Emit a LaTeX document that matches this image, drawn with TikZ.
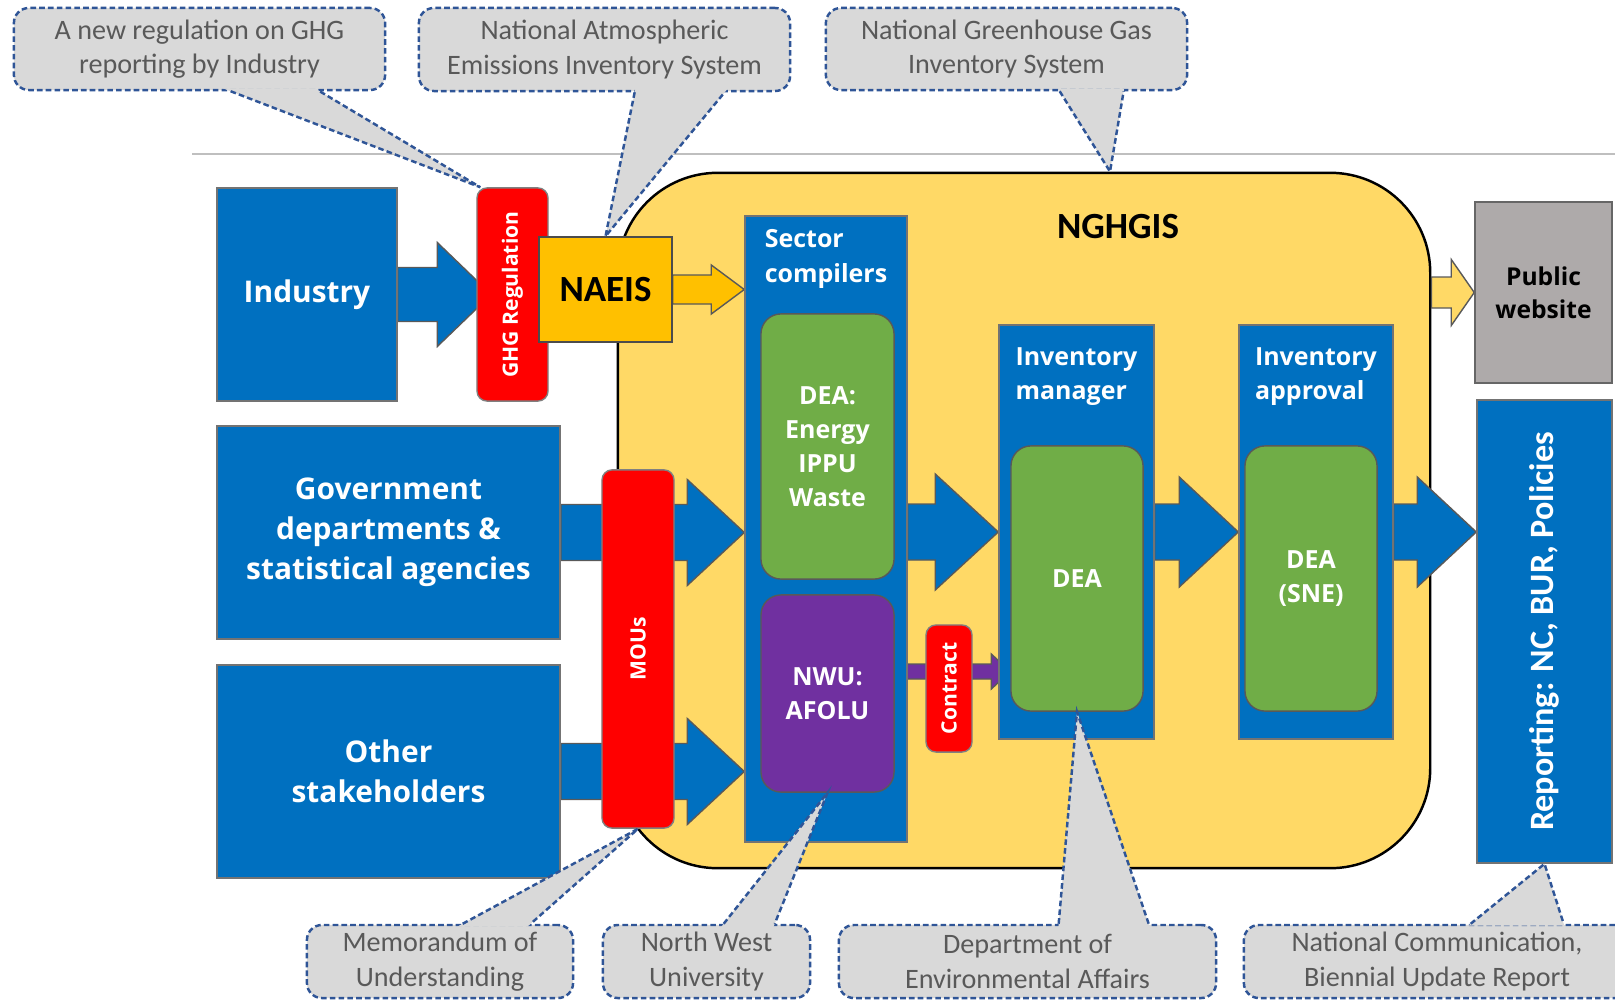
\documentclass[tikz,border=0pt]{standalone}
\usepackage{fontspec}
\setmainfont{Carlito}
\newfontfamily\labelfont{Open Sans}
\usetikzlibrary{calc}
\definecolor{ngblue}{HTML}{0070C0}
\definecolor{nggreen}{HTML}{70AD47}
\definecolor{ngpurple}{HTML}{7030A0}
\definecolor{ngred}{HTML}{FF0000}
\definecolor{ngorange}{HTML}{FFC000}
\definecolor{ngyellow}{HTML}{FFD966}
\definecolor{nggrey}{HTML}{AEAAAA}
\definecolor{callfill}{HTML}{D9D9D9}
\definecolor{callline}{HTML}{2F5597}
\definecolor{calltext}{HTML}{595959}
\definecolor{rulegrey}{HTML}{BFBFBF}
\pgfdeclarelayer{base}
\pgfdeclarelayer{flow}
\pgfsetlayers{base,flow,main}
% block arrow: start, tip, half shaft, half head, head length (px)
\newcommand{\bigarrow}[6][]{%
  \draw[blockarrow,#1] let \p1=(#2), \p2=(#3) in
    (\x1,{\y1+#4*0.01cm}) -- ({\x2-#6*0.01cm},{\y1+#4*0.01cm})
    -- ({\x2-#6*0.01cm},{\y1+#5*0.01cm}) -- (\x2,\y1)
    -- ({\x2-#6*0.01cm},{\y1-#5*0.01cm}) -- ({\x2-#6*0.01cm},{\y1-#4*0.01cm})
    -- (\x1,{\y1-#4*0.01cm}) -- cycle;}
% callout pointer: base, apex, base
\newcommand{\callptr}[3]{%
  \fill[callfill] ($(#2)!1.03!(#1)$) -- (#2) -- ($(#2)!1.03!(#3)$) -- cycle;
  \draw[calloutedge] (#1) -- (#2) -- (#3);}
\begin{document}
\begin{tikzpicture}[x=0.01cm, y=-0.01cm,
  bluebox/.style={draw=black!55, line width=0.4pt, fill=ngblue, inner sep=0pt},
  roundbox/.style={draw=black!65, line width=0.4pt, rounded corners=0.2cm, inner sep=0pt},
  redbar/.style={draw=black!50, line width=0.4pt, fill=ngred, rounded corners=0.1cm, inner sep=0pt},
  whitetext/.style={text=white, align=center, font=\labelfont\bfseries\fontsize{7.1}{9.7}\selectfont},
  bigwhite/.style={text=white, align=center, font=\labelfont\bfseries\fontsize{8.5}{11.4}\selectfont},
  bartext/.style={text=white, rotate=90, inner sep=0pt, font=\labelfont\bfseries\fontsize{6}{7}\selectfont},
  calloutbox/.style={draw=callline, fill=callfill, dash pattern=on 1.6pt off 0.9pt, line width=0.7pt, rounded corners=0.15cm, text=calltext, align=center, inner sep=0pt, font=\fontsize{8}{9.8}\selectfont},
  calloutedge/.style={draw=callline, dash pattern=on 1.6pt off 0.9pt, line width=0.7pt},
  blockarrow/.style={draw=black!65, line width=0.4pt, line join=miter}]
\useasboundingbox (0,0) rectangle (1615,1000);
\clip (0,0) rectangle (1615,1000);

\begin{pgfonlayer}{base}
  \draw[rulegrey, line width=0.6pt] (192,154) -- (1615,154);
  \node[draw=black, line width=0.7pt, fill=ngyellow, rounded corners=1cm, minimum width=8.12cm, minimum height=6.95cm] (nghgis) at (1024,520.5) {};
\end{pgfonlayer}
\node[font=\bfseries\fontsize{10.5}{12}\selectfont] (nghgislabel) at (1118,227) {NGHGIS};

% data providers
\node[bluebox, bigwhite, minimum width=1.8cm, minimum height=2.13cm] (industry) at (307,294.5) {Industry};
\node[bluebox, bigwhite, minimum width=3.43cm, minimum height=2.13cm] (govt) at (388.5,532.5) {Government\\departments \&\\statistical agencies};
\node[bluebox, bigwhite, minimum width=3.43cm, minimum height=2.13cm] (other) at (388.5,771.5) {Other\\stakeholders};

\node[redbar, minimum width=0.71cm, minimum height=2.13cm] (ghgreg) at (512.5,294.5) {};
\node[bartext] (ghglabel) at (ghgreg.center) {GHG Regulation};
\node[draw=black!70, line width=0.4pt, fill=ngorange, minimum width=1.33cm, minimum height=1.05cm, font=\bfseries\fontsize{10.5}{12}\selectfont] (naeis) at (605.5,289.5) {NAEIS};
\node[redbar, minimum width=0.72cm, minimum height=3.58cm] (mous) at (638,649) {};
\node[bartext] (mouslabel) at (mous.center) {MOUs};

% sector compilers
\node[bluebox, minimum width=1.62cm, minimum height=6.26cm] (sector) at (826,529) {};
\node[whitetext, align=left, anchor=north, inner sep=0pt] (sectorlabel) at ($(sector.north)+(0,14)$) {Sector\\compilers};
\node[roundbox, fill=nggreen, whitetext, minimum width=1.33cm, minimum height=2.65cm] (deasector) at (827.5,446.5) {DEA:\\Energy\\IPPU\\Waste};
\node[roundbox, fill=ngpurple, whitetext, minimum width=1.33cm, minimum height=1.97cm] (nwu) at (827.5,693.5) {NWU:\\AFOLU};
\node[redbar, minimum width=0.46cm, minimum height=1.27cm] (contract) at (949,688.5) {};
\node[bartext] (contractlabel) at (contract.center) {Contract};

% manager and approval
\node[bluebox, minimum width=1.55cm, minimum height=4.14cm] (invmgr) at (1076.5,532) {};
\node[whitetext, align=left, anchor=north, inner sep=0pt] (invmgrlabel) at ($(invmgr.north)+(0,23)$) {Inventory\\manager};
\node[roundbox, fill=nggreen, whitetext, minimum width=1.32cm, minimum height=2.65cm] (deamgr) at (1077,578.5) {DEA};
\node[bluebox, minimum width=1.54cm, minimum height=4.14cm] (approval) at (1316,532) {};
\node[whitetext, align=left, anchor=north, inner sep=0pt] (approvallabel) at ($(approval.north)+(0,23)$) {Inventory\\approval};
\node[roundbox, fill=nggreen, whitetext, minimum width=1.32cm, minimum height=2.65cm] (deasne) at (1311,578.5) {DEA\\(SNE)};

% outputs
\node[draw=black!60, line width=0.4pt, fill=nggrey, minimum width=1.37cm, minimum height=1.81cm, align=center, font=\labelfont\bfseries\fontsize{7}{9.4}\selectfont] (public) at (1543.5,292.5) {Public\\website};
\node[bluebox, minimum width=1.35cm, minimum height=4.63cm] (reporting) at (1544.5,631.5) {};
\node[text=white, rotate=90, inner sep=0pt, font=\bfseries\fontsize{9.7}{11}\selectfont] (reportinglabel) at (reporting.center) {Reporting: NC, BUR, Policies};

\begin{pgfonlayer}{flow}
  \bigarrow[fill=ngblue]{industry.east}{$(ghgreg.west)+(15,0)$}{27}{52}{54}
  \bigarrow[fill=ngorange]{naeis.east}{sector.west}{14.5}{24.5}{33}
  \foreach \src in {govt,other}
    \bigarrow[fill=ngblue]{\src.east}{sector.west}{28}{53}{57};
  \bigarrow[fill=ngblue]{sector.east |- invmgr.west}{invmgr.west}{28}{58}{63}
  \bigarrow[fill=ngblue]{invmgr.east}{approval.west}{28}{55}{59}
  \bigarrow[fill=ngblue]{approval.east}{reporting.west |- approval.east}{28}{55}{59}
  \bigarrow[fill=ngyellow]{nghgis.east |- public.west}{public.west}{15.5}{33}{23}
  \bigarrow[fill=ngpurple]{$(nwu.east)+(0,-22)$}{deamgr.west}{7.5}{17.5}{19}
\end{pgfonlayer}

% notes
\node[calloutbox, minimum width=3.71cm, minimum height=0.82cm] (noteghg) at (199.5,49) {A new regulation on GHG\\reporting by Industry};
\node[calloutbox, minimum width=3.71cm, minimum height=0.83cm] (notenaeis) at (604.5,49.5) {National Atmospheric\\Emissions Inventory System};
\node[calloutbox, minimum width=3.61cm, minimum height=0.82cm] (notenghgis) at (1006.5,49) {National Greenhouse Gas\\Inventory System};
\node[calloutbox, minimum width=2.66cm, minimum height=0.73cm] (notemou) at (440,961.5) {Memorandum of\\Understanding};
\node[calloutbox, minimum width=2.07cm, minimum height=0.73cm] (notenwu) at (706.5,961.5) {North West\\University};
\node[calloutbox, minimum width=3.77cm, minimum height=0.73cm] (notedea) at (1027.5,961.5) {Department of\\Environmental Affairs};
\node[calloutbox, minimum width=3.86cm, minimum height=0.73cm] (notenc) at (1437,961.5) {National Communication,\\Biennial Update Report};

\coordinate (ghgA) at ($(noteghg.south west)+(218,0)$);
\coordinate (ghgB) at ($(noteghg.south west)+(307,0)$);
\coordinate (ghgP) at ($(ghgreg.north west)+(4,0)$);
\callptr{ghgA}{ghgP}{ghgB}
\coordinate (naeisA) at ($(notenaeis.south west)+(217,0)$);
\coordinate (naeisB) at ($(notenaeis.south west)+(307,0)$);
\callptr{naeisA}{naeis.north}{naeisB}
\coordinate (nghgisA) at ($(notenghgis.south west)+(235,0)$);
\coordinate (nghgisB) at ($(notenghgis.south west)+(299,0)$);
\coordinate (nghgisP) at ($(nghgis.north)+(86,0)$);
\callptr{nghgisA}{nghgisP}{nghgisB}
\coordinate (mouA) at ($(notemou.north west)+(157,0)$);
\coordinate (mouB) at ($(notemou.north west)+(225,0)$);
\callptr{mouA}{mous.south}{mouB}
\coordinate (nwuA) at ($(notenwu.north west)+(122,0)$);
\coordinate (nwuB) at ($(notenwu.north west)+(173,0)$);
\callptr{nwuA}{nwu.south}{nwuB}
\coordinate (deaA) at ($(notedea.north west)+(221,0)$);
\coordinate (deaB) at ($(notedea.north west)+(311,0)$);
\callptr{deaA}{deamgr.south}{deaB}
\coordinate (ncA) at ($(notenc.north west)+(228,0)$);
\coordinate (ncB) at ($(notenc.north west)+(321,0)$);
\callptr{ncA}{reporting.south}{ncB}
\end{tikzpicture}
\end{document}
